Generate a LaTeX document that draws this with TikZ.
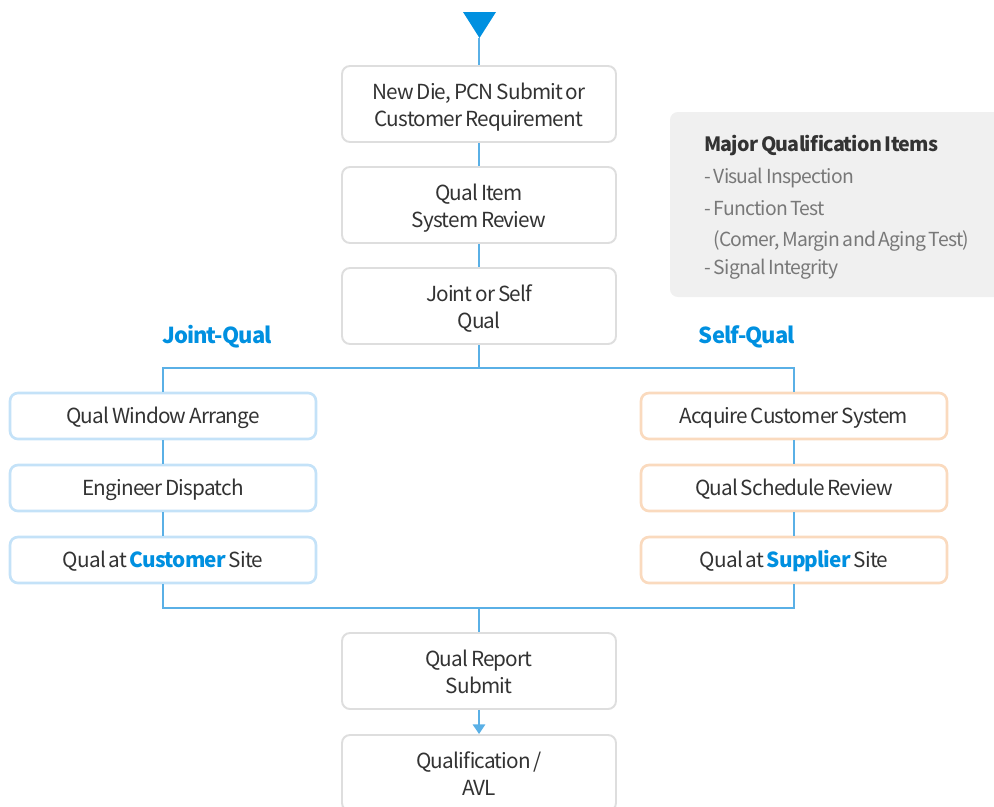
\documentclass[tikz,border=0pt]{standalone}
\usepackage{fontspec}
\setmainfont[LetterSpace=-4, WordSpace=0.75]{Noto Sans CJK KR}
\usetikzlibrary{arrows.meta}

\begin{document}
\begin{tikzpicture}[x=0.02cm, y=-0.02cm]

  % Define custom colors
  \definecolor{qblue}{RGB}{0, 144, 224}
  \definecolor{qline}{RGB}{90, 176, 230}
  \definecolor{qedge}{RGB}{222, 222, 222}
  \definecolor{jedge}{RGB}{196, 226, 248}
  \definecolor{sedge}{RGB}{250, 218, 190}
  \definecolor{qtext}{RGB}{51, 51, 51}
  \definecolor{qgrey}{RGB}{120, 120, 120}
  \definecolor{qpanel}{RGB}{240, 240, 240}

  \tikzset{
    stepbox/.style={draw=qedge, line width=1.1pt, rounded corners=4.5pt, fill=white,
      minimum width=5.48cm, minimum height=1.52cm, align=center, text=qtext,
      text height=27.6pt, text depth=2pt,
      font=\fontsize{11.8}{15.3}\selectfont},
    jointbox/.style={stepbox, draw=jedge, line width=1.5pt, minimum width=6.12cm, minimum height=0.92cm,
      text height=10pt},
    selfbox/.style={jointbox, draw=sedge},
    conn/.style={qline, line width=1.1pt},
    branch/.style={text=qblue, font=\fontsize{12.5}{15}\selectfont\bfseries},
    item/.style={anchor=base west, inner sep=0pt, text=qgrey, font=\fontsize{11}{14}\selectfont}
  }

  \useasboundingbox (0,0) rectangle (994,806);

  % Side panel
  \fill[qpanel, rounded corners=4.5pt] (670,112) rectangle (1010,297);
  \node[item, text=qtext, font=\fontsize{11.2}{14}\selectfont\bfseries] (major) at (704,151) {Major Qualification Items};
  \node[item] (visual) at (704,183) {- Visual Inspection};
  \node[item] (func) at (704,215) {- Function Test};
  \node[item] (corner) at (713,246) {(Comer, Margin and Aging Test)};
  \node[item] (signal) at (704,274) {- Signal Integrity};

  % Start marker
  \fill[qblue] (463,12) -- (496,12) -- (479.5,38) -- cycle;
  \coordinate (start) at (479,38);

  % Main steps
  \node[stepbox] (newdie) at (479,104) {New Die, PCN Submit or\\Customer Requirement};
  \node[stepbox] (review) at (479,205) {Qual Item\\System Review};
  \node[stepbox] (choice) at (479,306) {Joint or Self\\Qual};

  % Branch labels
  \node[branch] (jointlbl) at (217,337) {Joint-Qual};
  \node[branch] (selflbl) at (747,337) {Self-Qual};

  % Joint qualification
  \node[jointbox] (window) at (163,416) {Qual Window Arrange};
  \node[jointbox] (dispatch) at (163,488) {Engineer Dispatch};
  \node[jointbox] (custsite) at (163,560) {Qual at \textcolor{qblue}{\bfseries Customer} Site};

  % Self qualification
  \node[selfbox] (acquire) at (794,416) {Acquire Customer System};
  \node[selfbox] (schedule) at (794,488) {Qual Schedule Review};
  \node[selfbox] (suppsite) at (794,560) {Qual at \textcolor{qblue}{\bfseries Supplier} Site};

  % Closing steps
  \node[stepbox] (report) at (479,671) {Qual Report\\Submit};
  \node[stepbox] (avl) at (479,773) {Qualification /\\AVL};

  \coordinate (split) at (479,368);
  \coordinate (merge) at (479,608);

  % Connectors
  \draw[conn] (start) -- (newdie.north);
  \draw[conn] (newdie) -- (review);
  \draw[conn] (review) -- (choice);
  \draw[conn] (choice.south) -- (split);
  \draw[conn] (split) -| (window.north);
  \draw[conn] (split) -| (acquire.north);
  \draw[conn] (window) -- (dispatch);
  \draw[conn] (dispatch) -- (custsite);
  \draw[conn] (acquire) -- (schedule);
  \draw[conn] (schedule) -- (suppsite);
  \draw[conn] (custsite.south) |- (merge);
  \draw[conn] (suppsite.south) |- (merge);
  \draw[conn] (merge) -- (report.north);
  \draw[conn, -{Triangle[width=7pt, length=5.5pt]}] (report.south) -- (avl.north);

\end{tikzpicture}
\end{document}
